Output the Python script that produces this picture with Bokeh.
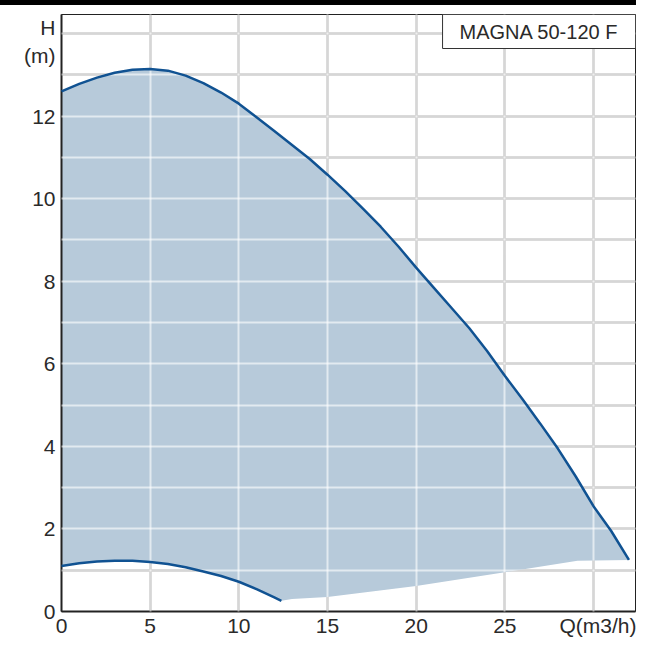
from bokeh.plotting import figure
from bokeh.models import Range1d, SingleIntervalTicker, FixedTicker, Label, Grid, Div
from bokeh.layouts import column
from bokeh.embed import file_html
from bokeh.resources import INLINE

# ---- data ----
max_q = [0, 1, 2, 3, 4, 5, 6, 7, 8, 9, 10, 11, 12, 13, 14, 15, 16, 17, 18, 19, 20,
         21, 22, 23, 24, 25, 26, 27, 28, 29, 30, 31, 32.0]
max_h = [12.6, 12.78, 12.93, 13.05, 13.12, 13.14, 13.1, 12.98, 12.8, 12.57, 12.3,
         11.97, 11.64, 11.3, 10.96, 10.58, 10.18, 9.76, 9.32, 8.84, 8.33, 7.84, 7.35,
         6.86, 6.31, 5.71, 5.14, 4.55, 3.94, 3.27, 2.55, 1.95, 1.25]
min_q = [0, 1, 2, 3, 4, 5, 6, 7, 8, 9, 10, 11, 12, 12.4]
min_h = [1.1, 1.17, 1.21, 1.23, 1.23, 1.2, 1.15, 1.07, 0.97, 0.86, 0.72, 0.54, 0.34, 0.26]
low_q = [12.4, 13, 15, 20, 25, 29.1, 32.0]
low_h = [0.26, 0.3, 0.35, 0.62, 0.95, 1.23, 1.25]

grid_x = [0, 5, 10, 15, 20, 25, 30]
x_ticks = [0, 5, 10, 15, 20, 25, 31]
x_labels = {31: "Q(m3/h)"}
y_ticks = [0, 2, 4, 6, 8, 10, 12, 13.8]
y_labels = {13.8: "H\n(m)"}
pump_name = "MAGNA 50-120 F"

X_MAX = 32.37
Y_MAX = 14.46

FILL = "#b7cada"
LINE = "#105292"
TXT = "#2a2a2a"
FONT = "Liberation Sans"

# polygon of the operating area
poly_x = max_q + low_q[::-1] + min_q[::-1]
poly_y = max_h + low_h[::-1] + min_h[::-1]

# thin black bar on top of the page
bar = Div(text="", width=636, height=5, margin=0,
          styles={"background-color": "black", "width": "636px", "height": "5px",
                  "display": "block", "margin": "0px", "padding": "0px"})

p = figure(width=636, height=634, x_range=Range1d(0, X_MAX), y_range=Range1d(0, Y_MAX),
           output_backend="svg", toolbar_location=None,
           min_border_left=61, min_border_right=1, min_border_top=9, min_border_bottom=4)
p.background_fill_color = "white"
p.border_fill_color = "white"
p.outline_line_color = "#222222"
p.outline_line_width = 1

# grey grid below the fill
p.xgrid.ticker = FixedTicker(ticks=grid_x)
p.ygrid.ticker = SingleIntervalTicker(interval=1)
for g in (p.xgrid, p.ygrid):
    g.grid_line_color = "#989898"
    g.grid_line_width = 2
    g.level = "image"

p.patch(poly_x, poly_y, fill_color=FILL, line_color=None, level="underlay")

# light grid above the fill
p.add_layout(Grid(dimension=0, ticker=FixedTicker(ticks=grid_x), grid_line_color="white",
                  grid_line_alpha=0.6, grid_line_width=2, level="guide"))
p.add_layout(Grid(dimension=1, ticker=SingleIntervalTicker(interval=1), grid_line_color="white",
                  grid_line_alpha=0.6, grid_line_width=2, level="guide"))

p.line(max_q, max_h, line_color=LINE, line_width=2.5, level="overlay")
p.line(min_q, min_h, line_color=LINE, line_width=2.5, level="overlay")

p.xaxis.ticker = FixedTicker(ticks=x_ticks)
p.xaxis.major_label_overrides = x_labels
p.yaxis.ticker = FixedTicker(ticks=y_ticks)
p.yaxis.major_label_overrides = y_labels
for ax in (p.xaxis, p.yaxis):
    ax.axis_line_color = "#222222"
    ax.axis_line_width = 2
    ax.major_tick_line_color = None
    ax.minor_tick_line_color = None
    ax.major_tick_out = 0
    ax.major_tick_in = 0
    ax.major_label_text_font = FONT
    ax.major_label_text_font_size = "21px"
    ax.major_label_text_color = TXT
p.xaxis.major_label_standoff = 2
p.yaxis.major_label_standoff = 6

p.add_layout(Label(x=X_MAX, y=Y_MAX, text=pump_name, text_align="right", text_baseline="top",
                   text_font=FONT, text_font_size="20px", text_color=TXT,
                   background_fill_color="white", border_line_color="#333333",
                   border_line_width=1, padding=(17, 6)))

layout = column(bar, p, spacing=0)

open("out.html", "w").write(file_html(layout, INLINE))
